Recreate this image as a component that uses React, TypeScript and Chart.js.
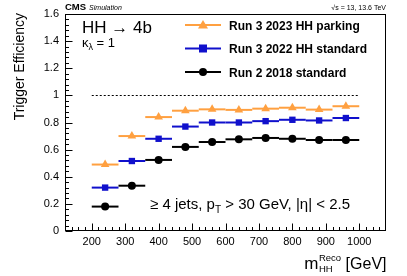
import React, { useEffect, useRef } from "react";
import { Chart, registerables } from "chart.js";

Chart.register(...registerables);

const binCenters = [240, 320, 400, 480, 560, 640, 720, 800, 880, 960];
const binHalfWidth = 40;
const run3Parking = [0.49, 0.70, 0.84, 0.887, 0.897, 0.893, 0.902, 0.909, 0.895, 0.92];
const run3Standard = [0.32, 0.516, 0.68, 0.77, 0.80, 0.80, 0.81, 0.82, 0.815, 0.833];
const run2Standard = [0.18, 0.334, 0.524, 0.62, 0.656, 0.676, 0.686, 0.68, 0.671, 0.671];
const seriesLabels = ["Run 3 2023 HH parking", "Run 3 2022 HH standard", "Run 2 2018 standard"];
const seriesColors = ["#ffa040", "#1010cc", "#000000"];
const seriesMarkers = ["triangle", "rect", "circle"];
const xTickLabels = [200, 300, 400, 500, 600, 700, 800, 900, 1000];
const yTickLabels = [0, 0.2, 0.4, 0.6, 0.8, 1, 1.2, 1.4, 1.6];
const referenceLine = { x0: 200, x1: 1000, y: 1 };

const FONT = "'Liberation Sans', Arial, sans-serif";

const drawPlugin = {
  id: "rootStyle",
  beforeDatasetsDraw(chart: any) {
    const ctx = chart.ctx;
    const xs = chart.scales.x;
    const ys = chart.scales.y;
    ctx.save();
    ctx.strokeStyle = "#000";
    ctx.lineWidth = 1;
    ctx.setLineDash([2, 2]);
    ctx.beginPath();
    const yl = Math.round(ys.getPixelForValue(referenceLine.y)) + 0.5;
    ctx.moveTo(xs.getPixelForValue(referenceLine.x0), yl);
    ctx.lineTo(xs.getPixelForValue(referenceLine.x1), yl);
    ctx.stroke();
    ctx.setLineDash([]);
    chart.data.datasets.forEach((ds: any) => {
      ctx.strokeStyle = ds.borderColor;
      ctx.lineWidth = 2;
      ds.data.forEach((p: any) => {
        const py = ys.getPixelForValue(p.y);
        ctx.beginPath();
        ctx.moveTo(xs.getPixelForValue(p.x - binHalfWidth), py);
        ctx.lineTo(xs.getPixelForValue(p.x + binHalfWidth), py);
        ctx.stroke();
      });
    });
    ctx.restore();
  },
  afterDraw(chart: any) {
    const ctx = chart.ctx;
    const xs = chart.scales.x;
    const ys = chart.scales.y;
    const a = chart.chartArea;
    ctx.save();
    ctx.strokeStyle = "#000";
    ctx.lineWidth = 1;
    ctx.strokeRect(Math.round(a.left) + 0.5, Math.round(a.top) + 0.5, Math.round(a.right - a.left) - 1, Math.round(a.bottom - a.top) - 1);
    const bottom = Math.round(a.bottom) - 0.5;
    for (let v = 140; v <= 1080; v += 20) {
      const px = Math.round(xs.getPixelForValue(v)) + 0.5;
      if (px > a.right - 1) continue;
      const major = v % 100 === 0;
      ctx.beginPath();
      ctx.moveTo(px, bottom);
      ctx.lineTo(px, bottom - (major ? 7 : 3.5));
      ctx.stroke();
    }
    const left = Math.round(a.left) + 0.5;
    for (let i = 0; i <= 40; i++) {
      const v = i * 0.04;
      const py = Math.round(ys.getPixelForValue(v)) + 0.5;
      const major = i % 5 === 0;
      ctx.beginPath();
      ctx.moveTo(left, py);
      ctx.lineTo(left + (major ? 7 : 3.5), py);
      ctx.stroke();
    }

    ctx.fillStyle = "#000";
    ctx.textBaseline = "alphabetic";
    ctx.textAlign = "left";
    ctx.font = `bold 9.5px ${FONT}`;
    ctx.fillText("CMS", 65, 10);
    const cmsW = ctx.measureText("CMS").width;
    ctx.font = `italic 7px ${FONT}`;
    ctx.fillText("Simulation", 65 + cmsW + 3, 10);
    ctx.font = `7px ${FONT}`;
    ctx.textAlign = "right";
    ctx.fillText("\u221As = 13, 13.6 TeV", 386, 10);
    ctx.textAlign = "left";

    ctx.font = `17px ${FONT}`;
    ctx.fillText("HH \u2192 4b", 82, 33);
    ctx.font = `13px ${FONT}`;
    ctx.fillText("\u03BA", 82, 47);
    let kx = 82 + ctx.measureText("\u03BA").width;
    ctx.font = `9px ${FONT}`;
    ctx.fillText("\u03BB", kx, 50);
    kx += ctx.measureText("\u03BB").width;
    ctx.font = `13px ${FONT}`;
    ctx.fillText(" = 1", kx, 47);

    ctx.font = `15px ${FONT}`;
    let sx = 150;
    const sy = 209;
    const s1 = "\u2265 4 jets, p";
    ctx.fillText(s1, sx, sy);
    sx += ctx.measureText(s1).width;
    ctx.font = `10px ${FONT}`;
    ctx.fillText("T", sx, sy + 4);
    sx += ctx.measureText("T").width;
    ctx.font = `15px ${FONT}`;
    ctx.fillText(" > 30 GeV, |\u03B7| < 2.5", sx, sy);

    const rows = [25, 48.5, 72];
    chart.data.datasets.forEach((ds: any, i: number) => {
      const y = rows[i];
      ctx.strokeStyle = ds.borderColor;
      ctx.fillStyle = ds.backgroundColor;
      ctx.lineWidth = 2;
      ctx.beginPath();
      ctx.moveTo(185, y);
      ctx.lineTo(221, y);
      ctx.stroke();
      const mx = 203;
      ctx.beginPath();
      if (seriesMarkers[i] === "triangle") {
        ctx.moveTo(mx, y - 5);
        ctx.lineTo(mx + 5, y + 3.5);
        ctx.lineTo(mx - 5, y + 3.5);
        ctx.closePath();
        ctx.fill();
      } else if (seriesMarkers[i] === "rect") {
        ctx.fillRect(mx - 4, y - 4, 8, 8);
      } else {
        ctx.arc(mx, y, 4, 0, Math.PI * 2);
        ctx.fill();
      }
      ctx.fillStyle = "#000";
      ctx.font = `bold 12px ${FONT}`;
      ctx.fillText(ds.label, 229, y + 4.5);
    });

    ctx.fillStyle = "#000";
    const tb = 269;
    ctx.font = `16px ${FONT}`;
    const rest = " [GeV]";
    const restW = ctx.measureText(rest).width;
    ctx.font = `9.5px ${FONT}`;
    const supW = Math.max(ctx.measureText("Reco").width, ctx.measureText("HH").width);
    ctx.font = `17px ${FONT}`;
    const mW = ctx.measureText("m").width;
    const startX = 386 - restW - supW - mW;
    ctx.fillText("m", startX, tb);
    ctx.font = `9.5px ${FONT}`;
    ctx.fillText("Reco", startX + mW + 0.5, tb - 8);
    ctx.fillText("HH", startX + mW + 0.5, tb + 3);
    ctx.font = `16px ${FONT}`;
    ctx.fillText(rest, startX + mW + supW + 0.5, tb);

    ctx.save();
    ctx.translate(24, 13);
    ctx.rotate(-Math.PI / 2);
    ctx.textAlign = "right";
    ctx.font = `14px ${FONT}`;
    ctx.fillText("Trigger Efficiency", 0, 0);
    ctx.restore();

    ctx.restore();
  },
};

export default function App() {
  const ref = useRef<HTMLCanvasElement | null>(null);
  useEffect(() => {
    if (!ref.current) return;
    const seriesValues = [run3Parking, run3Standard, run2Standard];
    const chart = new Chart(ref.current, {
      type: "scatter",
      data: {
        datasets: seriesValues.map((vals, i) => ({
          label: seriesLabels[i],
          data: binCenters.map((x, j) => ({ x, y: vals[j] })),
          borderColor: seriesColors[i],
          backgroundColor: seriesColors[i],
          pointStyle: seriesMarkers[i] as any,
          pointRadius: seriesMarkers[i] === "triangle" ? 5 : seriesMarkers[i] === "rect" ? 4.5 : 4,
          pointBorderWidth: 0,
          showLine: false,
        })),
      },
      options: {
        animation: false,
        responsive: false,
        layout: { padding: { left: 0, top: 14, right: 21, bottom: 0 } },
        plugins: { legend: { display: false }, tooltip: { enabled: false } },
        scales: {
          x: {
            type: "linear",
            min: 120,
            max: 1080,
            grid: { display: false, drawTicks: false },
            border: { display: false },
            afterBuildTicks: (s: any) => {
              s.ticks = xTickLabels.map((v) => ({ value: v }));
            },
            afterFit: (s: any) => {
              s.height = 45;
            },
            ticks: {
              color: "#000",
              padding: 4,
              maxRotation: 0,
              autoSkip: false,
              font: { family: FONT, size: 11 },
              callback: (v: any) => String(v),
            },
          },
          y: {
            type: "linear",
            min: 0,
            max: 1.6,
            grid: { display: false, drawTicks: false },
            border: { display: false },
            afterBuildTicks: (s: any) => {
              s.ticks = yTickLabels.map((v) => ({ value: v }));
            },
            afterFit: (s: any) => {
              s.width = 65;
            },
            ticks: {
              color: "#000",
              padding: 6,
              autoSkip: false,
              font: { family: FONT, size: 11 },
              callback: (v: any) => String(+Number(v).toFixed(1)),
            },
          },
        },
      },
      plugins: [drawPlugin],
    });
    return () => chart.destroy();
  }, []);
  return (
    <div style={{ position: "absolute", left: 0, top: 0, width: 407, height: 276, background: "#fff" }}>
      <canvas ref={ref} width={407} height={276} style={{ display: "block" }} />
    </div>
  );
}
